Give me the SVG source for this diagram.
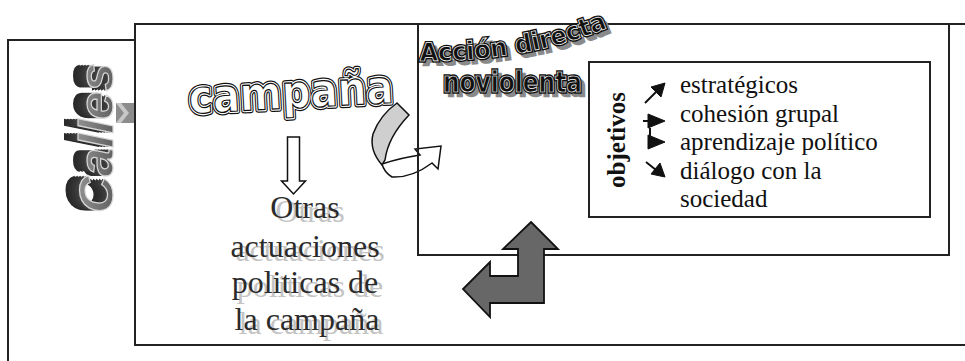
<svg xmlns="http://www.w3.org/2000/svg" width="965" height="361" viewBox="0 0 965 361">
<style>
.ln{fill:none;stroke:#222;stroke-width:2}
.bx{fill:#fff;stroke:#222;stroke-width:2}
.obj{font-size:25px;fill:#111}
.wa{font-family:'DejaVu Sans',sans-serif;font-weight:bold}
.waSh{fill:#8a8a8a;stroke:#8a8a8a;stroke-width:2.5}
.waOut{fill:#111;stroke:#111;stroke-width:3.5}
.waIn{fill:#111;stroke:#fff;stroke-width:0.7}
.ot{font-size:32px;text-anchor:middle}
.blk{fill:#111;stroke:#111;stroke-width:1}
</style>
<defs>
<path id="pAcc" d="M420,61 C470,61 540,57 612,26"/>
<path id="pAccS" d="M424,65 C474,65 544,61 616,30"/>
<linearGradient id="gC" x1="0" y1="0" x2="0" y2="1">
<stop offset="0" stop-color="#9a9a9a"/>
<stop offset="1" stop-color="#555"/>
</linearGradient>
</defs>

<g id="calles">
<path class="ln" d="M135,40 H8 V361"/>
<rect x="116" y="103" width="20" height="20" fill="#8c8c8c"/>
<polygon points="116,103 124,113 116,123 121,123 129,113 121,103" fill="#c8c8c8"/>
<g transform="translate(113,213) rotate(-90)" font-family="'Liberation Sans', Arial, sans-serif" font-weight="bold" font-style="italic" font-size="48">
<text x="0" y="-14" textLength="150" lengthAdjust="spacingAndGlyphs" fill="#2a2a2a">Calles</text>
<text x="0" y="-11" textLength="150" lengthAdjust="spacingAndGlyphs" fill="#2e2e2e">Calles</text>
<text x="0" y="-8" textLength="150" lengthAdjust="spacingAndGlyphs" fill="#333">Calles</text>
<text x="0" y="-5" textLength="150" lengthAdjust="spacingAndGlyphs" fill="#3a3a3a">Calles</text>
<text x="0" y="-2" textLength="150" lengthAdjust="spacingAndGlyphs" fill="#444">Calles</text>
<text x="0" y="0" textLength="150" lengthAdjust="spacingAndGlyphs" fill="url(#gC)" stroke="#d8d8d8" stroke-width="1.2">Calles</text>
</g>
</g>

<g id="campana">
<rect class="bx" x="135" y="24" width="840" height="321"/>
<g class="wa" font-size="46" transform="rotate(-3 292 100)">
<text x="189" y="108" textLength="205" lengthAdjust="spacingAndGlyphs" fill="none" stroke="#111" stroke-width="6" stroke-linejoin="round">campaña</text>
<text x="189" y="108" textLength="205" lengthAdjust="spacingAndGlyphs" fill="none" stroke="#fff" stroke-width="3.5" stroke-linejoin="round">campaña</text>
<text x="189" y="108" textLength="205" lengthAdjust="spacingAndGlyphs" fill="#fff" stroke="#111" stroke-width="1.2">campaña</text>
</g>
</g>

<g id="otras" font-family="'Liberation Serif', 'Times New Roman', 'DejaVu Serif', serif">
<g class="ot" fill="#c4c4c4">
<text x="310" y="222">Otras</text>
<text x="310" y="261">actuaciones</text>
<text x="310" y="297">politicas de</text>
<text x="311" y="334">la campaña</text>
</g>
<g class="ot" fill="#2b2b2b">
<text x="305" y="218">Otras</text>
<text x="305" y="257">actuaciones</text>
<text x="305" y="293">politicas de</text>
<text x="307" y="330">la campaña</text>
</g>
</g>

<g id="connectors">
<polygon points="287.5,137 299.5,137 299.5,181 305.5,181 293.5,194 281.5,181 287.5,181" fill="#fff" stroke="#111" stroke-width="1.5"/>
<path d="M397,103 L409,115 Q388,137 385,160 L382,165 Q369,150 373,134 Q380,115 397,103 Z" fill="#cfcfcf" stroke="#111" stroke-width="1.5"/>
<path d="M382,164 Q400,158 420,155 L415,149 L441,146 L438,169 L432,163 Q412,178 392,177 Q384,172 382,164 Z" fill="#fff" stroke="#111" stroke-width="1.5"/>
</g>

<g id="accion">
<rect class="ln" x="418" y="24" width="531" height="231"/>
<g class="wa" font-size="25">
<text class="waSh"><textPath href="#pAccS" textLength="192" lengthAdjust="spacingAndGlyphs">Acción directa</textPath></text>
<text class="waOut"><textPath href="#pAcc" textLength="192" lengthAdjust="spacingAndGlyphs">Acción directa</textPath></text>
<text class="waIn"><textPath href="#pAcc" textLength="192" lengthAdjust="spacingAndGlyphs">Acción directa</textPath></text>
</g>
<g class="wa" font-size="28">
<text class="waSh" x="447" y="96" textLength="139" lengthAdjust="spacingAndGlyphs">noviolenta</text>
<text class="waOut" x="443" y="92" textLength="139" lengthAdjust="spacingAndGlyphs">noviolenta</text>
<text class="waIn" x="443" y="92" textLength="139" lengthAdjust="spacingAndGlyphs">noviolenta</text>
</g>
</g>

<g id="objetivos" font-family="'Liberation Serif', 'Times New Roman', 'DejaVu Serif', serif">
<rect class="bx" x="589" y="62" width="341" height="155"/>
<text class="obj" font-weight="bold" text-anchor="middle" transform="translate(625,140) rotate(-90)">objetivos</text>
<g class="blk">
<line x1="645" y1="103" x2="657" y2="91" stroke-width="2"/>
<polygon points="665,83 651,87 661,97"/>
<line x1="643" y1="121" x2="649" y2="121" stroke-width="2"/>
<polygon points="648,114 665,121 648,128"/>
<line x1="650" y1="128" x2="650" y2="136" stroke-width="2"/>
<polygon points="648,135 665,142 648,149"/>
<line x1="646" y1="162" x2="656" y2="170" stroke-width="2"/>
<polygon points="665,177 651,174 660,163"/>
</g>
<g class="obj">
<text x="680" y="93">estratégicos</text>
<text x="680" y="121.5">cohesión grupal</text>
<text x="680" y="150">aprendizaje político</text>
<text x="680" y="178.5">diálogo con la</text>
<text x="680" y="207">sociedad</text>
</g>
</g>

<g id="bigarrow">
<polygon points="531,222 558,249 544,249 544,303 490,303 490,317 463,289 490,262 490,276 518,276 518,249 503,249" fill="#676767" stroke="#111" stroke-width="1.8" stroke-linejoin="miter"/>
</g>
</svg>
